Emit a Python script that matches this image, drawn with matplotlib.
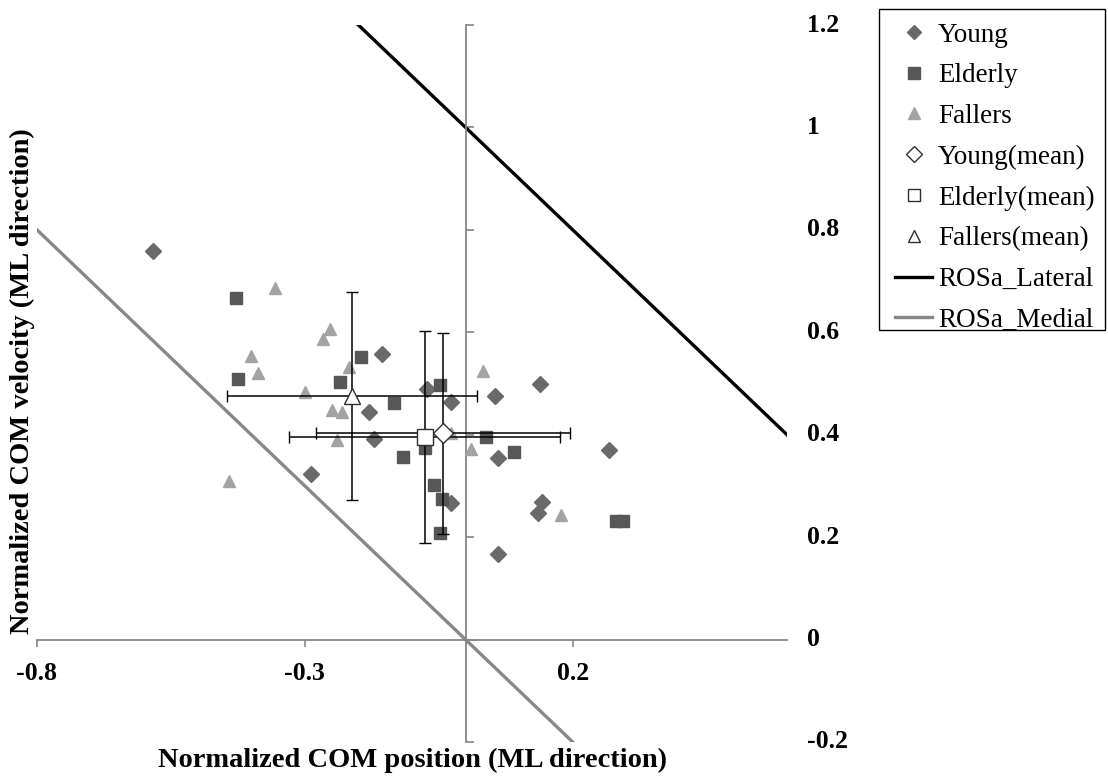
import matplotlib
matplotlib.use("Agg")
import matplotlib.pyplot as plt
from matplotlib.transforms import blended_transform_factory
from matplotlib.lines import Line2D
from matplotlib.patches import Rectangle

# ---------------- data ----------------
young_x = [-0.583, -0.156, -0.180, -0.171, -0.289, -0.072, -0.028, 0.055,
           0.139, 0.060, -0.027, 0.143, 0.135, 0.060, 0.268]
young_y = [0.759, 0.557, 0.444, 0.391, 0.323, 0.489, 0.464, 0.475,
           0.500, 0.354, 0.266, 0.268, 0.248, 0.168, 0.371]

elderly_x = [-0.428, -0.425, -0.195, -0.234, -0.134, -0.048, -0.076, -0.117,
             0.038, 0.090, -0.059, -0.044, -0.048, 0.281, 0.294]
elderly_y = [0.667, 0.508, 0.551, 0.502, 0.461, 0.498, 0.374, 0.356,
             0.395, 0.366, 0.301, 0.274, 0.209, 0.231, 0.231]

fallers_x = [-0.356, -0.266, -0.254, -0.400, -0.387, -0.300, -0.218, -0.249,
             -0.230, -0.240, -0.441, 0.032, -0.027, 0.010, 0.178]
fallers_y = [0.686, 0.586, 0.607, 0.553, 0.520, 0.483, 0.532, 0.448,
             0.444, 0.389, 0.309, 0.524, 0.403, 0.373, 0.244]

young_mean = (-0.042, 0.403)
young_err = (0.237, 0.196)
elderly_mean = (-0.076, 0.395)
elderly_err = (0.253, 0.207)
fallers_mean = (-0.212, 0.475)
fallers_err = (0.233, 0.203)

lateral_x = [-0.2, 0.6]
lateral_y = [1.2, 0.4]
medial_x = [-0.8, 0.2]
medial_y = [0.8, -0.2]

x_ticks = [-0.8, -0.3, 0.2]
x_ticklabels = ["-0.8", "-0.3", "0.2"]
y_ticks = [-0.2, 0.0, 0.2, 0.4, 0.6, 0.8, 1.0, 1.2]
y_ticklabels = ["-0.2", "0", "0.2", "0.4", "0.6", "0.8", "1", "1.2"]

x_title = "Normalized COM position (ML direction)"
y_title = "Normalized COM velocity (ML direction)"
legend_labels = ["Young", "Elderly", "Fallers", "Young(mean)", "Elderly(mean)",
                 "Fallers(mean)", "ROSa_Lateral", "ROSa_Medial"]

# ---------------- style ----------------
SERIF = ["Liberation Serif", "DejaVu Serif"]
c_young = "#6a6a6a"
c_elderly = "#575757"
c_fallers = "#a3a3a3"
c_axis = "#868686"
c_medial = "#888888"

W, H = 1108, 778
fig = plt.figure(figsize=(W / 100, H / 100), dpi=100)
ax = fig.add_axes([37 / W, (H - 742) / H, 750 / W, 717 / H])
ax.set_xlim(-0.8, 0.6)
ax.set_ylim(-0.2, 1.2)

for s in ("top", "right"):
    ax.spines[s].set_visible(False)
ax.spines["left"].set_position(("data", 0))
ax.spines["bottom"].set_position(("data", 0))
for s in ("left", "bottom"):
    ax.spines[s].set_color(c_axis)
    ax.spines[s].set_linewidth(1.3)

ax.set_xticks(x_ticks)
ax.set_yticks(y_ticks)
ax.tick_params(axis="x", direction="out", length=5, width=1.2, color=c_axis,
               labelbottom=False)
ax.tick_params(axis="y", direction="in", length=6, width=1.2, color=c_axis,
               labelleft=False)

# reference lines
ax.plot(lateral_x, lateral_y, color="black", lw=2.4, zorder=2)
ax.plot(medial_x, medial_y, color=c_medial, lw=2.4, zorder=2)

# individual points
ax.plot(young_x, young_y, "D", color=c_young, ms=8.3, mec=c_young, ls="none", zorder=3)
ax.plot(elderly_x, elderly_y, "s", color=c_elderly, ms=8.6, mec=c_elderly, ls="none", zorder=3)
ax.plot(fallers_x, fallers_y, "^", color=c_fallers, ms=9.2, mec=c_fallers, ls="none", zorder=3)

# means with error bars
ekw = dict(ecolor="black", elinewidth=1.1, capsize=4.5, capthick=1.1, ls="none",
           mfc="white", mec="#303030", mew=1.0, zorder=5)
ax.errorbar(young_mean[0], young_mean[1], xerr=young_err[0], yerr=young_err[1],
            fmt="D", ms=10.5, **ekw)
ax.errorbar(elderly_mean[0], elderly_mean[1], xerr=elderly_err[0], yerr=elderly_err[1],
            fmt="s", ms=11.3, **ekw)
ax.errorbar(fallers_mean[0], fallers_mean[1], xerr=fallers_err[0], yerr=fallers_err[1],
            fmt="^", ms=12, **ekw)

# tick labels (Excel-style placement)
tr_y = blended_transform_factory(fig.transFigure, ax.transData)
for v, lab in zip(y_ticks, y_ticklabels):
    fig.text(807 / W, v, lab, transform=tr_y, ha="left", va="center",
             family=SERIF, fontweight="bold", fontsize=18.5)
tr_x = blended_transform_factory(ax.transData, fig.transFigure)
for v, lab in zip(x_ticks, x_ticklabels):
    fig.text(v, 1 - 674 / H, lab, transform=tr_x, ha="center", va="center",
             family=SERIF, fontweight="bold", fontsize=18.5)

# axis titles
fig.text(412 / W, 1 - 760 / H, x_title, ha="center", va="center",
         family=SERIF, fontweight="bold", fontsize=20.5)
fig.text(22 / W, 1 - 381 / H, y_title, ha="center", va="center", rotation=90,
         family=SERIF, fontweight="bold", fontsize=20.5)

# legend
handles = [
    Line2D([], [], marker="D", ls="none", color=c_young, ms=7),
    Line2D([], [], marker="s", ls="none", color=c_elderly, ms=8),
    Line2D([], [], marker="^", ls="none", color=c_fallers, ms=8),
    Line2D([], [], marker="D", ls="none", mfc="white", mec="#303030", ms=8, mew=1),
    Line2D([], [], marker="s", ls="none", mfc="white", mec="#303030", ms=9, mew=1),
    Line2D([], [], marker="^", ls="none", mfc="white", mec="#303030", ms=9, mew=1),
    Line2D([], [], color="black", lw=2.4),
    Line2D([], [], color=c_medial, lw=2.4),
]
leg = fig.legend(handles, legend_labels, loc="upper left",
                 bbox_to_anchor=(881 / W, 1 - 9 / H),
                 prop=dict(family=SERIF, size=19.5), frameon=False,
                 borderpad=0.5, labelspacing=0.58, handlelength=1.4,
                 handletextpad=0.2, borderaxespad=0)
fig.patches.append(Rectangle((879 / W, 1 - 330 / H), 226 / W, 321 / H,
                             transform=fig.transFigure, fill=False,
                             edgecolor="black", linewidth=1.0))

fig.savefig("out.png", dpi=100)
